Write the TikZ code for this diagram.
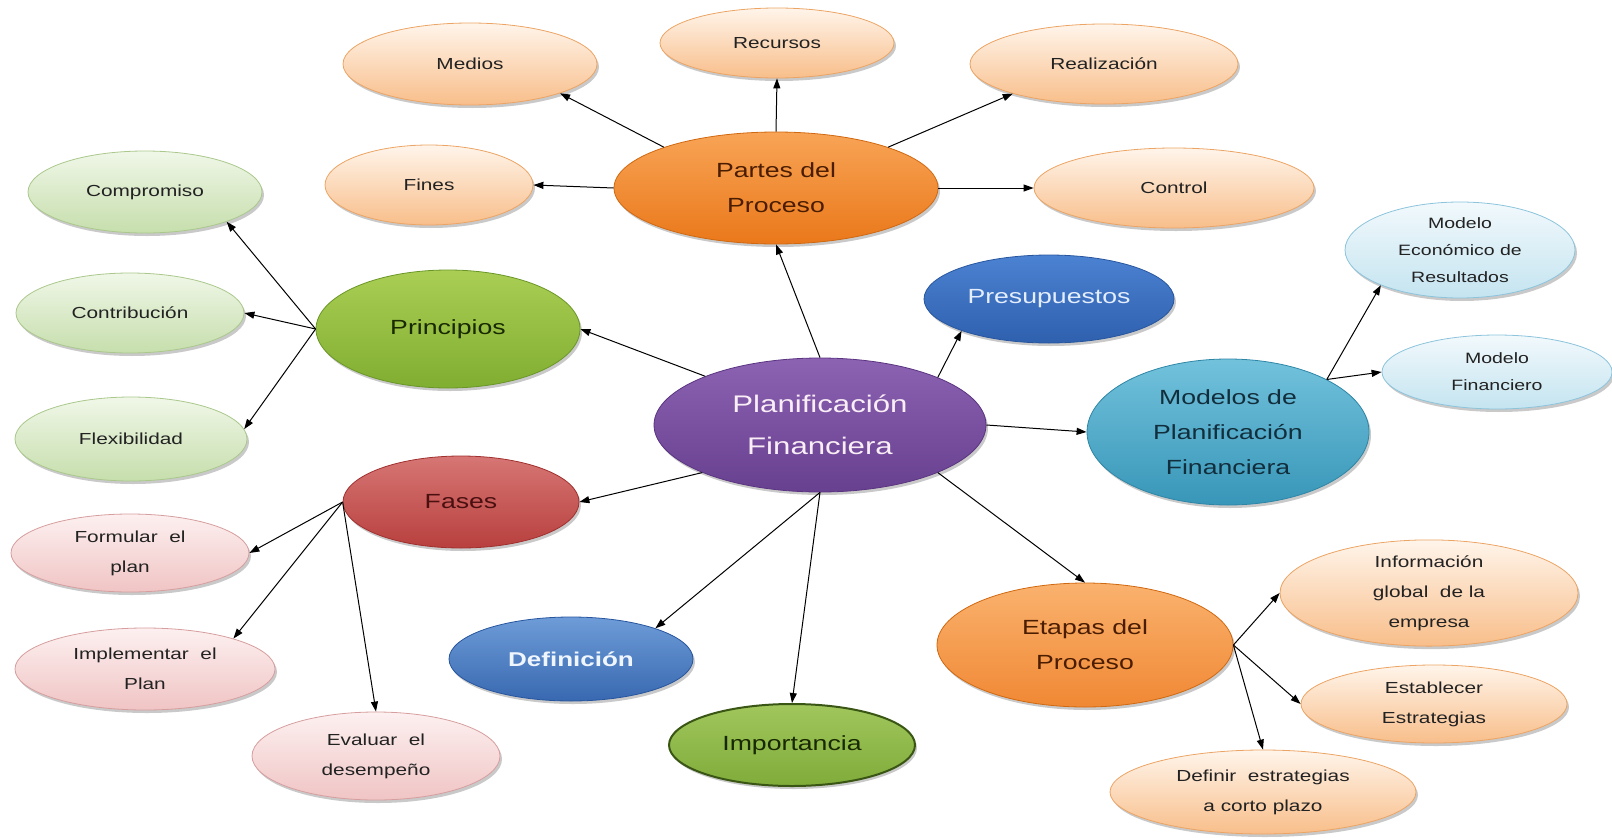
\documentclass[tikz,border=0pt]{standalone}
\usepackage{fontspec}
\newfontfamily\mapfont[FakeStretch=1.3]{Liberation Sans}
\usetikzlibrary{shapes.geometric,arrows.meta,shadows}

\definecolor{inkdark}{HTML}{222222}

\tikzset{
  bubble/.style={ellipse, inner sep=0pt, align=center, line width=0.8pt,
    drop shadow={shadow xshift=2pt, shadow yshift=-3pt, opacity=0.3, fill=black!70}},
  sz/.style 2 args={minimum width=#1pt, minimum height=#2pt},
  small/.style={bubble, font=\mapfont\fontsize{16}{30}\selectfont, text=inkdark},
  tiny/.style={bubble, font=\mapfont\fontsize{15}{27}\selectfont, text=inkdark},
  big/.style={bubble, font=\mapfont\fontsize{20.5}{35}\selectfont},
  % light families
  peach/.style={small, top color=orange!8, bottom color={rgb,255:red,248;green,190;blue,138}, draw={rgb,255:red,236;green,164;blue,100}},
  mint/.style={small, top color={rgb,255:red,240;green,247;blue,232}, bottom color={rgb,255:red,198;green,222;blue,172}, draw={rgb,255:red,170;green,200;blue,140}},
  rose/.style={small, top color={rgb,255:red,253;green,240;blue,240}, bottom color={rgb,255:red,240;green,196;blue,196}, draw={rgb,255:red,214;green,158;blue,158}},
  sky/.style={tiny, top color={rgb,255:red,242;green,249;blue,252}, bottom color={rgb,255:red,196;green,228;blue,240}, draw={rgb,255:red,140;green,196;blue,220}},
  % strong families
  orangebig/.style={big, top color={rgb,255:red,248;green,164;blue,86}, bottom color={rgb,255:red,234;green,120;blue,26}, draw={rgb,255:red,208;green,104;blue,16}, text={rgb,255:red,74;green,28;blue,0}},
  greenbig/.style={big, top color={rgb,255:red,170;green,206;blue,84}, bottom color={rgb,255:red,128;green,174;blue,48}, draw={rgb,255:red,106;green,150;blue,40}, text={rgb,255:red,24;green,40;blue,0}},
  bluebig/.style={big, top color={rgb,255:red,76;green,130;blue,210}, bottom color={rgb,255:red,46;green,96;blue,174}, draw={rgb,255:red,40;green,86;blue,158}, text={rgb,255:red,228;green,238;blue,255}},
  purplebig/.style={big, font=\mapfont\fontsize{24}{42}\selectfont, top color={rgb,255:red,140;green,98;blue,178}, bottom color={rgb,255:red,104;green,64;blue,144}, draw={rgb,255:red,90;green,52;blue,128}, text={rgb,255:red,250;green,238;blue,246}},
  tealbig/.style={big, top color={rgb,255:red,114;green,194;blue,220}, bottom color={rgb,255:red,56;green,150;blue,184}, draw={rgb,255:red,46;green,134;blue,166}, text={rgb,255:red,18;green,46;blue,60}},
  redbig/.style={big, top color={rgb,255:red,214;green,118;blue,116}, bottom color={rgb,255:red,184;green,64;blue,62}, draw={rgb,255:red,160;green,48;blue,46}, text={rgb,255:red,74;green,16;blue,16}},
  link/.style={-{Triangle[length=10pt,width=7pt]}, line width=1pt, black},
}

\begin{document}
\begin{tikzpicture}[x=1pt, y=-1pt]
\useasboundingbox (0,0) rectangle (1612,838);

% central concept
\node[purplebig, sz={332}{134}] (plan) at (820,425) {Planificación\\Financiera};

% parts of the process
\node[orangebig, sz={324}{112}] (partes) at (776,188) {Partes del\\Proceso};
\node[peach, sz={254}{82}] (medios) at (470,64) {Medios};
\node[peach, sz={234}{70}] (rec) at (777,43) {Recursos};
\node[peach, sz={268}{80}] (real) at (1104,64) {Realización};
\node[peach, sz={208}{80}] (fines) at (429,185) {Fines};
\node[peach, sz={280}{80}] (control) at (1174,188) {Control};

% principles
\node[greenbig, sz={264}{118}] (prin) at (448,329) {Principios};
\node[mint, sz={234}{82}] (comp) at (145,192) {Compromiso};
\node[mint, sz={228}{80}] (contr) at (130,313) {Contribución};
\node[mint, sz={232}{84}] (flex) at (131,439) {Flexibilidad};

% budgets and models
\node[bluebig, sz={250}{88}] (pres) at (1049,299) {Presupuestos};
\node[tealbig, sz={282}{146}] (mod) at (1228,432) {Modelos de\\Planificación\\Financiera};
\node[sky, sz={230}{96}] (meco) at (1460,250) {Modelo\\Económico de\\Resultados};
\node[sky, sz={230}{74}] (mfin) at (1497,372) {Modelo\\Financiero};

% phases
\node[redbig, sz={236}{92}] (fases) at (461,502) {Fases};
\node[rose, sz={238}{78}] (form) at (130,553) {Formular\ \ el\\plan};
\node[rose, sz={260}{82}] (impl) at (145,669) {Implementar\ \ el\\Plan};
\node[rose, sz={248}{88}] (eval) at (376,756) {Evaluar\ \ el\\desempeño};

% definition and importance
\node[bluebig, sz={244}{84}, font=\mapfont\bfseries\fontsize{20}{35}\selectfont, text={rgb,255:red,240;green,246;blue,255},
      top color={rgb,255:red,110;green,156;blue,216}, bottom color={rgb,255:red,56;green,104;blue,176}] (def) at (571,659) {Definición};
\node[greenbig, sz={246}{82}, line width=2pt, draw={rgb,255:red,58;green,86;blue,20},
      top color={rgb,255:red,160;green,198;blue,92}, bottom color={rgb,255:red,128;green,172;blue,58}] (imp) at (792,745) {Importancia};

% stages of the process
\node[orangebig, sz={296}{124}, top color={rgb,255:red,250;green,178;blue,110}, bottom color={rgb,255:red,240;green,136;blue,52}] (etapas) at (1085,645) {Etapas del\\Proceso};
\node[peach, sz={298}{104}] (info) at (1429,593) {Información\\global\ \ de la\\empresa};
\node[peach, sz={266}{78}] (est) at (1434,704) {Establecer\\Estrategias};
\node[peach, sz={306}{84}] (corto) at (1263,792) {Definir\ \ estrategias\\a corto\ plazo};

% connectors from the central concept
\draw[link] (plan.north) -- (partes.south);
\draw[link] (plan.157) -- (prin.east);
\draw[link] (plan.22) -- (pres.200);
\draw[link] (plan.east) -- (mod.west);
\draw[link] (plan.202) -- (fases.east);
\draw[link] (plan.south) -- (def.20);
\draw[link] (plan.south) -- (imp.north);
\draw[link] (plan.338) -- (etapas.north);

% parts of the process
\draw[link] (partes.160) -- (medios.342);
\draw[link] (partes.north) -- (rec.south);
\draw[link] (partes.20) -- (real.198);
\draw[link] (partes.west) -- (fines.east);
\draw[link] (partes.east) -- (control.west);

% principles
\draw[link] (prin.west) -- (comp.340);
\draw[link] (prin.west) -- (contr.east);
\draw[link] (prin.west) -- (flex.5);

% phases
\draw[link] (fases.west) -- (form.east);
\draw[link] (fases.west) -- (impl.19);
\draw[link] (fases.west) -- (eval.north);

% models
\draw[link] (mod.28) -- (meco.204);
\draw[link] (mod.28) -- (mfin.west);

% stages
\draw[link] (etapas.east) -- (info.west);
\draw[link] (etapas.east) -- (est.west);
\draw[link] (etapas.east) -- (corto.north);
\end{tikzpicture}
\end{document}
